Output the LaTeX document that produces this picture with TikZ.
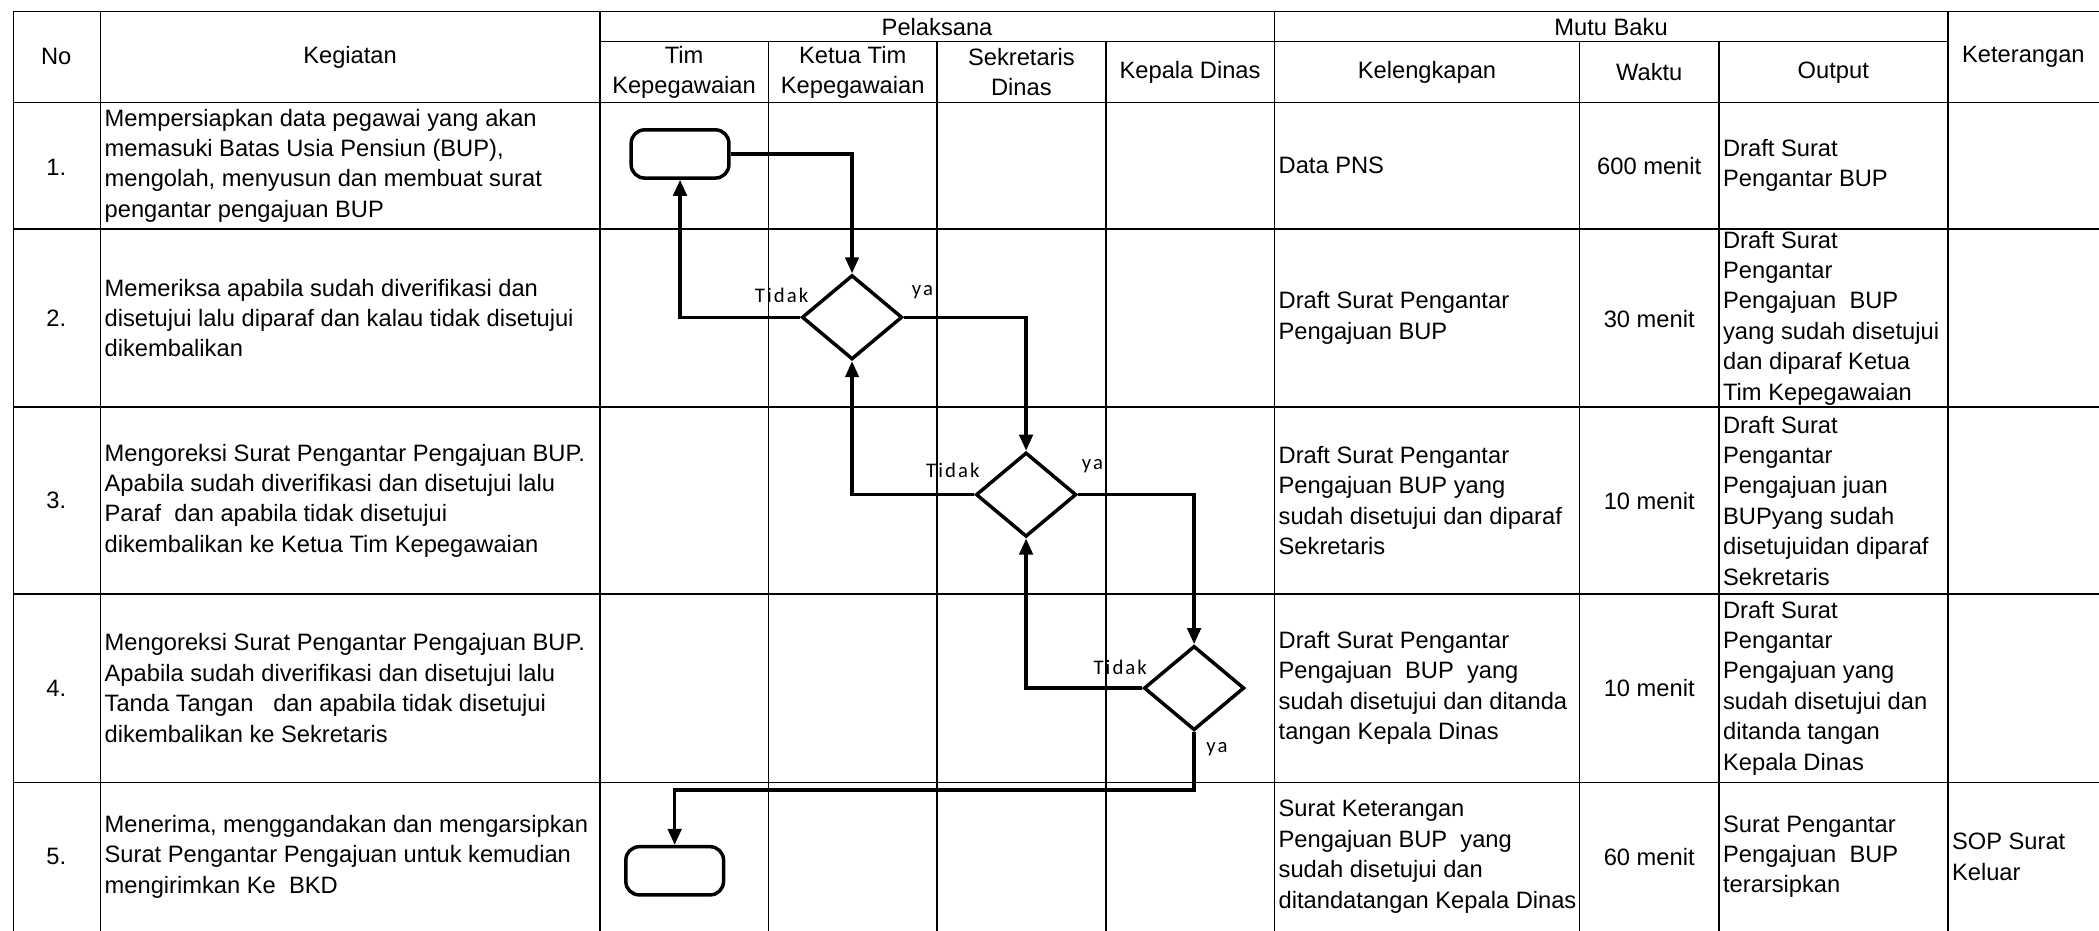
\documentclass[tikz,border=0pt]{standalone}
\usepackage{fontspec}
\setmainfont{Liberation Sans}
\newfontfamily\flowfont[LetterSpace=10]{Carlito}
\usetikzlibrary{arrows.meta,shapes.geometric}

\begin{document}
\begin{tikzpicture}[
  x=1pt, y=-1pt,
  font=\fontsize{17.7}{22.7}\selectfont,
  grid/.style={line width=1.3pt, draw=black},
  cell/.style={anchor=west, align=left, inner sep=0pt},
  head/.style={align=center, inner sep=0pt},
  terminal/.style={draw, line width=2.6pt, rounded corners=10pt,
    minimum width=73pt, minimum height=36pt, inner sep=0pt},
  decision/.style={draw, diamond, line width=2.6pt,
    minimum width=75pt, minimum height=63pt, inner sep=0pt},
  flow/.style={-{Triangle[length=12pt,width=10pt]}, line width=2.6pt},
  answer/.style={font=\flowfont\fontsize{15.5}{18}\selectfont, inner sep=0pt}
]
\useasboundingbox (0,0) rectangle (1568,695);
\clip (0,0) rectangle (1568,695);

% table lines
\foreach \y in {8.5,76.5,171,304,444,584.5}
  \draw[grid] (10,\y) -- (1575,\y);
\draw[grid] (448,31) -- (1455,31);
\foreach \x in {10,75,448,952,1455}
  \draw[grid] (\x,8.5) -- (\x,700);
\foreach \x in {574,700,826,1180,1284}
  \draw[grid] (\x,31) -- (\x,700);

% header
\node[head] (hNo) at (42,42.5) {No};
\node[head] (hKeg) at (261.5,42.5) {Kegiatan};
\node[head] (hPel) at (700,20) {Pelaksana};
\node[head] (hTim) at (511,54) {Tim\\Kepegawaian};
\node[head] (hKetua) at (637,54) {Ketua Tim\\Kepegawaian};
\node[head] (hSek) at (763,54) {Sekretaris\\Dinas};
\node[head] (hKadis) at (889,54) {Kepala Dinas};
\node[head] (hMutu) at (1203.5,20) {Mutu Baku};
\node[head] (hKel) at (1066,54) {Kelengkapan};
\node[head] (hWkt) at (1232,54) {Waktu};
\node[head] (hOut) at (1369.5,54) {Output};
\node[head] (hKet) at (1511.5,42.5) {Keterangan};

% nomor
\node (no1) at (42,125) {1.};
\node (no2) at (42,238) {2.};
\node (no3) at (42,374) {3.};
\node (no4) at (42,514) {4.};
\node (no5) at (42,640) {5.};

% kegiatan
\node[cell] (keg1) at (78,123.7) {Mempersiapkan data pegawai yang akan\\memasuki Batas Usia Pensiun (BUP),\\mengolah, menyusun dan membuat surat\\pengantar pengajuan BUP};
\node[cell] (keg2) at (78,237.5) {Memeriksa apabila sudah diverifikasi dan\\disetujui lalu diparaf dan kalau tidak disetujui\\dikembalikan};
\node[cell] (keg3) at (78,374) {Mengoreksi Surat Pengantar Pengajuan BUP.\\Apabila sudah diverifikasi dan disetujui lalu\\Paraf\ \ dan apabila tidak disetujui\\dikembalikan ke Ketua Tim Kepegawaian};
\node[cell] (keg4) at (78,514) {Mengoreksi Surat Pengantar Pengajuan BUP.\\Apabila sudah diverifikasi dan disetujui lalu\\Tanda Tangan\ \ \ dan apabila tidak disetujui\\dikembalikan ke Sekretaris};
\node[cell] (keg5) at (78,640) {Menerima, menggandakan dan mengarsipkan\\Surat Pengantar Pengajuan untuk kemudian\\mengirimkan Ke\ \ BKD};

% kelengkapan
\node[cell] (kel1) at (955,123.7) {Data PNS};
\node[cell] (kel2) at (955,237.5) {Draft Surat Pengantar\\Pengajuan BUP};
\node[cell] (kel3) at (955,374) {Draft Surat Pengantar\\Pengajuan BUP yang\\sudah disetujui dan diparaf\\Sekretaris};
\node[cell] (kel4) at (955,514) {Draft Surat Pengantar\\Pengajuan\ \ BUP\ \ yang\\sudah disetujui dan ditanda\\tangan Kepala Dinas};
\node[cell] (kel5) at (955,640) {Surat Keterangan\\Pengajuan BUP\ \ yang\\sudah disetujui dan\\ditandatangan Kepala Dinas};

% waktu
\node (wkt1) at (1232,124) {600 menit};
\node (wkt2) at (1232,238) {30 menit};
\node (wkt3) at (1232,374) {10 menit};
\node (wkt4) at (1232,514) {10 menit};
\node (wkt5) at (1232,640) {60 menit};

% output
\node[cell] (out1) at (1287,123.7) {Draft Surat\\Pengantar BUP};
\node[cell] (out2) at (1287,237.5) {Draft Surat\\Pengantar\\Pengajuan\ \ BUP\\yang sudah disetujui\\dan diparaf Ketua\\Tim Kepegawaian};
\node[cell] (out3) at (1287,374) {Draft Surat\\Pengantar\\Pengajuan juan\\BUPyang sudah\\disetujuidan diparaf\\Sekretaris};
\node[cell] (out4) at (1287,514) {Draft Surat\\Pengantar\\Pengajuan yang\\sudah disetujui dan\\ditanda tangan\\Kepala Dinas};
\node[cell] (out5) at (1287,640) {Surat Pengantar\\Pengajuan\ \ BUP\\terarsipkan};

% keterangan
\node[cell] (ket5) at (1458,640) {SOP Surat\\Keluar};

% alur
\node[terminal] (start) at (508,115) {};
\node[decision] (cekKetua) at (636.5,237) {};
\node[decision] (cekSek) at (766.5,369.5) {};
\node[decision] (cekKadis) at (892,514) {};
\node[terminal] (finish) at (504,650.5) {};
\coordinate (back) at (892,590);

\draw[flow] (start.east) -| (cekKetua.north);
\draw[flow] (cekKetua.west) -| (start.south);
\draw[flow] (cekKetua.east) -| (cekSek.north);
\draw[flow] (cekSek.west) -| (cekKetua.south);
\draw[flow] (cekSek.east) -| (cekKadis.north);
\draw[flow] (cekKadis.west) -| (cekSek.south);
\draw[flow] (cekKadis.south) -- (back) -| (finish.north);

\node[answer, anchor=base east] (tidak1) at (604,226) {Tidak};
\node[answer, anchor=base west] (ya1) at (681,221) {ya};
\node[answer, anchor=base east] (tidak2) at (732,357) {Tidak};
\node[answer, anchor=base west] (ya2) at (808,351) {ya};
\node[answer, anchor=base east] (tidak3) at (857,504) {Tidak};
\node[answer, anchor=base west] (ya3) at (901,562) {ya};

\end{tikzpicture}
\end{document}
